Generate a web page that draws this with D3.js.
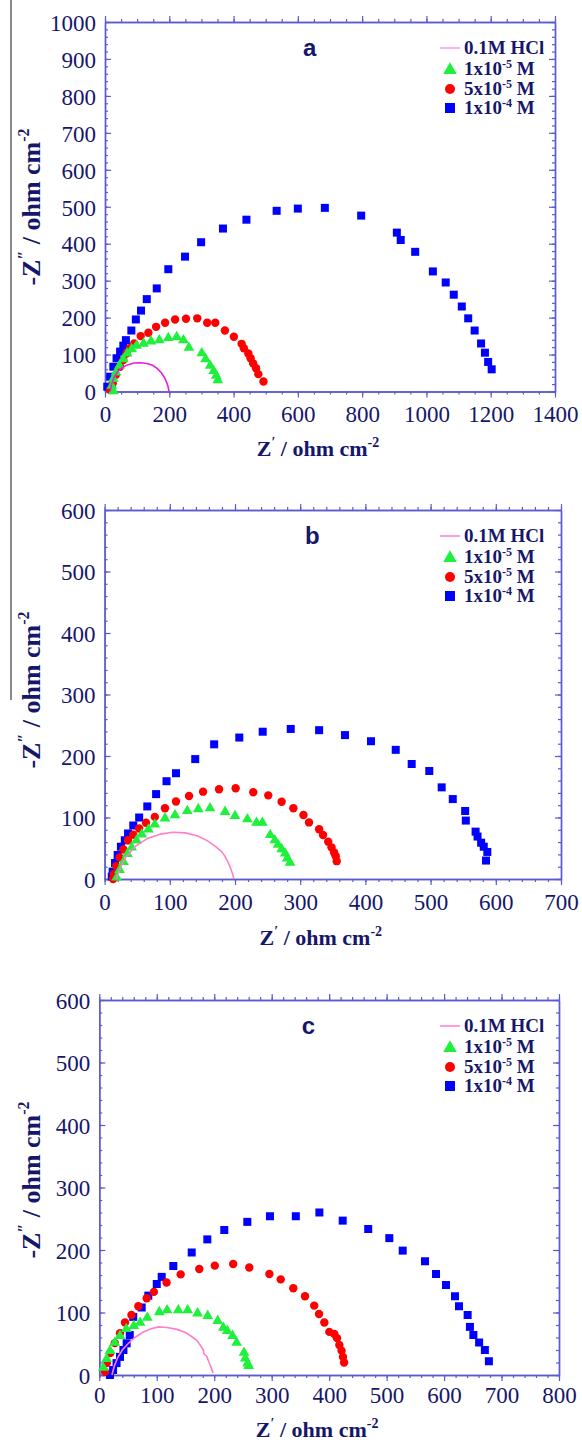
<!DOCTYPE html>
<html><head><meta charset="utf-8">
<script src="https://cdn.jsdelivr.net/npm/d3@7"></script>
<style>html,body{margin:0;padding:0;background:#fff;}svg{display:block;}</style>
</head><body>
<svg id="chart" width="582" height="1446"></svg>
<script>
// ---------- DATA ----------
const legendLabels = ["0.1M HCl", "1x10|-5| M", "5x10|-5| M", "1x10|-4| M"];
const panelLetters = ["a", "b", "c"];

const xTicksA = [0,200,400,600,800,1000,1200,1400];
const yTicksA = [0,100,200,300,400,500,600,700,800,900,1000];
const xTicksB = [0,100,200,300,400,500,600,700];
const yTicksB = [0,100,200,300,400,500,600];
const xTicksC = [0,100,200,300,400,500,600,700,800];
const yTicksC = [0,100,200,300,400,500,600];

// panel a
const a_hcl = [[16,0],[20,18],[27,36],[38,52],[52,64],[70,72],[90,77],[110,78],[130,76],[148,71],[163,62],[176,50],[186,36],[193,22],[197,10],[199,0]];
const a_1e5 = [[26,3],[21,18],[26,36],[34,54],[45,72],[57,90],[69,105],[83,117],[98,126],[120,132],[143,138],[169,141],[197,147],[223,150],[244,141],[261,121],[301,106],[313,90],[327,72],[338,58],[346,45],[351,33]];
const a_5e5 = [[16,4],[24,22],[34,45],[47,67],[57,85],[67,103],[77,117],[91,130],[111,150],[135,159],[159,175],[187,186],[218,195],[252,197],[287,198],[318,186],[343,186],[373,165],[401,148],[425,129],[432,117],[446,103],[453,90],[461,76],[470,63],[477,47],[493,27]];
const a_1e4 = [[7,13],[16,40],[26,67],[36,90],[47,108],[57,124],[65,139],[82,165],[96,195],[112,219],[130,250],[161,279],[197,331],[249,365],[299,404],[367,441],[440,465],[534,489],[600,495],[684,497],[797,476],[908,430],[920,410],[965,378],[1020,325],[1060,295],[1085,262],[1110,230],[1130,198],[1150,165],[1170,130],[1182,105],[1192,80],[1203,60]];

// panel b
const b_hcl = [[18,0],[24,18],[33,36],[47,53],[66,66],[86,73],[104,76],[124,75],[143,70],[158,62],[170,53],[179,45],[184,38],[186,34],[190,26],[194,15],[197,6],[198,0]];
const b_1e5 = [[18.5,4],[23,16],[29,29],[35,42],[41.5,52.5],[49,64],[57,74],[67,82],[77,90],[92.6,100],[108,105],[126.8,112],[143.7,115],[161.7,116.5],[184.7,110.6],[200,104],[219,98.7],[233,93],[242,93],[254,73],[261,64.5],[266,57],[271.5,50],[277,43],[280,35],[284.5,28]];
const b_5e5 = [[13,0],[14,8],[18,21],[23,35],[29,48],[36,63],[44,72],[53,82],[63.5,91.5],[77,101],[92.6,115],[109.5,126],[129.5,135],[151,142],[175.5,146],[201,147.5],[228,141],[251,136],[271.5,125.5],[289.5,115],[305,104],[313.5,92],[329,81],[335,71.5],[343,60.6],[348,51.5],[352,43],[354.5,37],[356,29]];
const b_1e4 = [[11,4],[12.4,12],[16,26],[20,39],[25,52.5],[31,63],[36,74],[44,87],[53,100],[65.5,118],[79,138],[95,159],[109.5,172],[139,195],[168,219],[206.6,230],[242.5,239.5],[285.5,244],[329,242],[368.7,234],[408.6,224],[446.5,210],[471,187],[498,175.6],[517,149],[534,130],[553,110.6],[554,95],[569,77],[572,69],[577.5,59],[581.5,52.5],[587,44],[585,30]];

// panel c
const c_hcl = [[22,0],[26,14],[32,28],[40,40],[50,50],[62,60],[75,68],[90,74],[103,77],[118,76],[135,73],[150,68],[160,62],[170,55],[177,46],[181,40],[182,34],[187,30],[191,20],[195,11],[198,3]];
const c_1e5 = [[7,13],[12.8,27],[18.6,40],[27,53],[36,64],[47,75],[60,80],[71,85],[83.5,93],[104.4,102],[118,105],[137.5,105],[153.8,105],[171,100],[188.7,96],[206,88],[215.8,77],[222.7,72],[232,64],[239,53],[251.8,37],[254,28],[258,20],[260,16]];
const c_5e5 = [[10,5],[13,19],[19,35],[27,51],[36,67],[44.7,84],[56,96],[68,110],[82.5,122.7],[95,133],[117,148],[141.6,161],[174,169.6],[201,175],[233,177.6],[261,172],[296,161.6],[315.7,153],[337.6,138.7],[358,126],[374,111],[382.4,97.6],[391.6,84],[400.3,69],[409,65.6],[413.7,59],[417.7,48],[421.6,39],[424,29],[426,20]];
const c_1e4 = [[18.5,0],[24,8],[30,19],[36,29],[42,40],[47.6,50.7],[53,64],[59,93],[73.8,108],[85.3,127],[100,145.6],[108.6,157],[128.8,174.4],[160.8,196],[188,217],[217.5,232],[257.6,245],[297,254],[342,254],[383,260],[423.6,247],[468,233.6],[504.7,219],[528,199],[566.8,182],[586,161.6],[603.4,144],[619,126],[626,110],[641,96],[645,77],[651,64],[661,52],[671,40],[678,22]];

// ---------- LAYOUT ----------
const panels = [
  {letter:panelLetters[0], left:105, right:555, top:22, bottom:391.5, xmax:1400, ymax:1000, xt:xTicksA, yt:yTicksA, xminor:50, yminor:20,
   series:[a_hcl,a_1e5,a_5e5,a_1e4], hclColor:"#e81ee0", legendLine:"#ff99ee", xlabY:422, xtitleY:456, ytitleC:207},
  {letter:panelLetters[1], left:104.6, right:561, top:510, bottom:879, xmax:700, ymax:600, xt:xTicksB, yt:yTicksB, xminor:20, yminor:20,
   series:[b_hcl,b_1e5,b_5e5,b_1e4], hclColor:"#ff7fc8", legendLine:"#ff7fc8", xlabY:910, xtitleY:945, ytitleC:690},
  {letter:panelLetters[2], left:99.3, right:559, top:1000, bottom:1375, xmax:800, ymax:600, xt:xTicksC, yt:yTicksC, xminor:20, yminor:20,
   series:[c_hcl,c_1e5,c_5e5,c_1e4], hclColor:"#ff7fc8", legendLine:"#ff7fc8", xlabY:1403, xtitleY:1437, ytitleC:1180}
];

const AX = "#5b5bd0";
const TXT = "#16166a";
const SERIF = "'Liberation Serif','Times New Roman',serif";
const svg = d3.select("#chart");

// gray vertical rule on the left
svg.append("line").attr("x1",11).attr("x2",11).attr("y1",0).attr("y2",700)
  .attr("stroke","#8a8a8a").attr("stroke-width",2);

function range(step, max){ const r=[]; for(let v=0; v<=max+1e-9; v+=step) r.push(+v.toFixed(6)); return r; }

function styleAxis(g){
  g.selectAll(".domain").attr("stroke",AX).attr("stroke-width",1.4);
  g.selectAll(".tick line").attr("stroke",AX).attr("stroke-width",1.2);
  g.selectAll("text").attr("fill",TXT).attr("font-family",SERIF).attr("font-size",23);
}
const fmt = d3.format("d");

panels.forEach(p=>{
  const x = d3.scaleLinear().domain([0,p.xmax]).range([p.left,p.right]);
  const y = d3.scaleLinear().domain([0,p.ymax]).range([p.bottom,p.top]);
  const g = svg.append("g");
  const xmin = range(p.xminor,p.xmax), ymin = range(p.yminor,p.ymax);

  // bottom axis
  g.append("g").attr("transform",`translate(0,${p.bottom})`).call(d3.axisBottom(x).tickValues(xmin).tickSize(3).tickFormat("").tickSizeOuter(0)).call(styleAxis);
  const bx = g.append("g").attr("transform",`translate(0,${p.bottom})`).call(d3.axisBottom(x).tickValues(p.xt).tickSize(6).tickPadding(4).tickFormat(fmt).tickSizeOuter(0)).call(styleAxis);
  bx.selectAll("text").attr("dy",null).attr("y",p.xlabY-p.bottom);
  // top axis
  g.append("g").attr("transform",`translate(0,${p.top})`).call(d3.axisTop(x).tickValues(xmin).tickSize(3).tickFormat("").tickSizeOuter(0)).call(styleAxis);
  g.append("g").attr("transform",`translate(0,${p.top})`).call(d3.axisTop(x).tickValues(p.xt).tickSize(6).tickFormat("").tickSizeOuter(0)).call(styleAxis);
  // left axis (inward ticks)
  g.append("g").attr("transform",`translate(${p.left},0)`).call(d3.axisRight(y).tickValues(ymin).tickSize(3).tickFormat("").tickSizeOuter(0)).call(styleAxis);
  g.append("g").attr("transform",`translate(${p.left},0)`).call(d3.axisRight(y).tickValues(p.yt).tickSize(6).tickFormat("").tickSizeOuter(0)).call(styleAxis);
  const ly = g.append("g").attr("transform",`translate(${p.left},0)`).call(d3.axisLeft(y).tickValues(p.yt).tickSize(0).tickPadding(9).tickFormat(fmt).tickSizeOuter(0)).call(styleAxis);
  ly.select(".domain").remove();
  ly.selectAll("text").attr("dy","0.36em");
  // right axis (inward ticks)
  g.append("g").attr("transform",`translate(${p.right},0)`).call(d3.axisLeft(y).tickValues(ymin).tickSize(3).tickFormat("").tickSizeOuter(0)).call(styleAxis);
  g.append("g").attr("transform",`translate(${p.right},0)`).call(d3.axisLeft(y).tickValues(p.yt).tickSize(6).tickFormat("").tickSizeOuter(0)).call(styleAxis);

  // series
  const [hcl,s1,s2,s3] = p.series;
  g.append("g").selectAll("rect").data(s3).join("rect")
    .attr("x",d=>x(d[0])-4).attr("y",d=>y(d[1])-4).attr("width",8).attr("height",8).attr("fill","#0000ff");
  g.append("g").selectAll("circle").data(s2).join("circle")
    .attr("cx",d=>x(d[0])).attr("cy",d=>y(d[1])).attr("r",4.2).attr("fill","#ff0000");
  const tri = d3.symbol().type(d3.symbolTriangle).size(50);
  g.append("g").selectAll("path").data(s1).join("path")
    .attr("d",tri).attr("transform",d=>`translate(${x(d[0])},${y(d[1])+0.8})`).attr("fill","#1ef03c");
  g.append("path").datum(hcl).attr("fill","none").attr("stroke",p.hclColor).attr("stroke-width",1.6)
    .attr("d",d3.line().x(d=>x(d[0])).y(d=>y(d[1])));

  // panel letter
  g.append("text").attr("x",p.left + (p.right-p.left)*0.455).attr("y",p.top+34).attr("text-anchor","middle")
    .attr("font-family","'Liberation Sans',Arial,sans-serif").attr("font-weight","bold").attr("font-size",24).attr("fill",TXT).text(p.letter);

  // legend
  const lx = 440, rows=[26,47,67,86];
  legendLabels.forEach((lab,i)=>{
    const cy = p.top + rows[i];
    if(i===0){
      g.append("line").attr("x1",lx).attr("x2",lx+20).attr("y1",cy).attr("y2",cy).attr("stroke",p.legendLine).attr("stroke-width",1.5);
    } else if(i===1){
      g.append("path").attr("d",d3.symbol().type(d3.symbolTriangle).size(80)).attr("transform",`translate(${lx+10},${cy+1})`).attr("fill","#1ef03c");
    } else if(i===2){
      g.append("circle").attr("cx",lx+10).attr("cy",cy).attr("r",5).attr("fill","#ff0000");
    } else {
      g.append("rect").attr("x",lx+5).attr("y",cy-5).attr("width",10).attr("height",10).attr("fill","#0000ff");
    }
    const parts = lab.split("|");
    const t = g.append("text").attr("x",lx+24).attr("y",cy+6).attr("font-family",SERIF).attr("font-weight","bold").attr("font-size",19).attr("fill",TXT);
    t.append("tspan").text(parts[0]);
    if(parts.length>1){
      t.append("tspan").attr("font-size",12).attr("dy",-7).text(parts[1]);
      t.append("tspan").attr("dy",7).text(parts[2]);
    }
  });

  // x title
  const xt = g.append("text").attr("x",(p.left+p.right)/2 - 12).attr("y",p.xtitleY).attr("text-anchor","middle")
    .attr("font-family",SERIF).attr("font-weight","bold").attr("font-size",22).attr("fill",TXT);
  xt.append("tspan").text("Z");
  xt.append("tspan").attr("font-size",14).attr("dy",-9).text("′");
  xt.append("tspan").attr("dy",9).text(" / ohm cm");
  xt.append("tspan").attr("font-size",14).attr("dy",-9).text("-2");

  // y title
  const yt = g.append("text").attr("transform",`translate(40,${p.ytitleC}) rotate(-90)`).attr("text-anchor","middle")
    .attr("font-family",SERIF).attr("font-weight","bold").attr("font-size",26).attr("fill",TXT);
  yt.append("tspan").text("-Z");
  yt.append("tspan").attr("font-size",16).attr("dy",-11).text("″");
  yt.append("tspan").attr("dy",11).text(" / ohm cm");
  yt.append("tspan").attr("font-size",16).attr("dy",-11).text("-2");
});
</script>
</body></html>
